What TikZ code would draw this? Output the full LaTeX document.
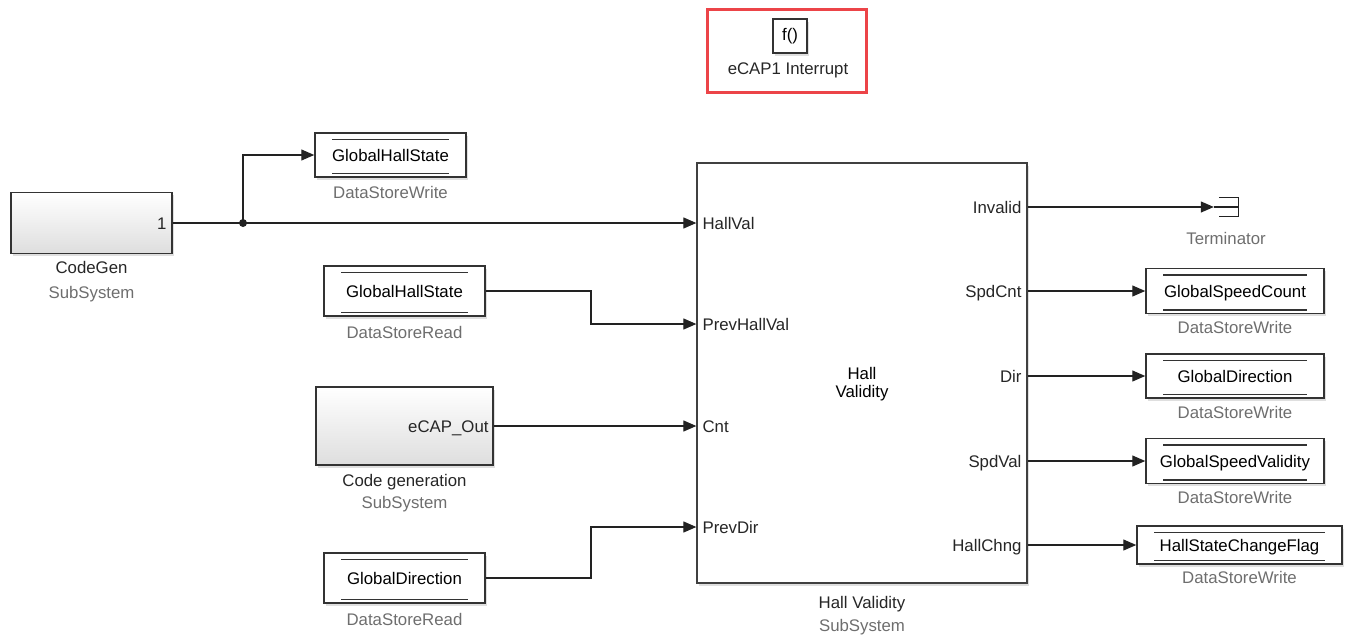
\documentclass[tikz,border=0pt]{standalone}
\usepackage{fontspec}
\setmainfont{Liberation Sans}
\usetikzlibrary{arrows.meta,positioning,calc,shadows}
\definecolor{irqred}{RGB}{236,68,72}
\definecolor{wiregray}{RGB}{34,34,34}
\definecolor{subgray}{RGB}{110,110,110}
\tikzset{
  invisible/.style={inner sep=0pt},
  blockshadow/.style={drop shadow={shadow xshift=2pt, shadow yshift=-2.5pt, fill=black!25}},
  subsys/.style={rectangle, draw=black!80, line width=1.5pt, inner sep=0pt,
    top color=white, bottom color=black!13, blockshadow},
  dstore/.style={rectangle, draw=black!80, line width=1.5pt, fill=white, inner sep=0pt,
    text height=12pt, text depth=0pt, blockshadow, path picture={
      \draw[line width=1.2pt, black!80]
        ([xshift=17pt,yshift=-6.5pt]path picture bounding box.north west) --
        ([xshift=-17pt,yshift=-6.5pt]path picture bounding box.north east);
      \draw[line width=1.2pt, black!80]
        ([xshift=17pt,yshift=3.5pt]path picture bounding box.south west) --
        ([xshift=-17pt,yshift=3.5pt]path picture bounding box.south east);
    }},
  hallblock/.style={rectangle, draw=black!75, line width=1.3pt, fill=white, inner sep=0pt, blockshadow},
  fcallbox/.style={rectangle, draw=black!80, line width=1.5pt, fill=white, inner sep=0pt,
    minimum size=34pt, blockshadow},
  caption/.style={inner sep=0pt, text height=12.5pt, text depth=3.5pt, text=black!85},
  kind/.style={caption, text=subgray},
  portlbl/.style={inner sep=0pt, text height=12pt, text depth=0pt, text=black!85},
  wire/.style={-{Triangle[length=13pt,width=11pt]}, line width=1.2pt, draw=wiregray},
  termline/.style={line width=1.3pt, draw=wiregray}
}

\begin{document}
\begin{tikzpicture}[x=1pt, y=-1pt, font=\fontsize{16.8}{20}\selectfont]

\useasboundingbox (0,0) rectangle (1350,635);

%INTERRUPT
\node[rectangle, draw=irqred, line width=3pt, minimum width=159pt, minimum height=83pt,
  inner sep=0pt] (irq) at (786.5,50.5) {};
\node[fcallbox] (fcall) at (790,36) {f()};
\node[caption] (irqlbl) at (788,70) {eCAP1 Interrupt};

%CODEGEN
\node[subsys, minimum width=161pt, minimum height=61pt] (cg) at (91.5,223) {};
\node[portlbl, anchor=east, xshift=-6pt] (cgport) at (cg.east) {1};
\node[caption, below=7pt of cg] (cgcap) {CodeGen};
\node[kind, below=8pt of cgcap] (cgkind) {SubSystem};

%DATA STORES LEFT
\node[dstore, minimum width=151pt, minimum height=44pt] (dswA) at (390.5,155) {GlobalHallState};
\node[kind, below=8pt of dswA] (dswAl) {DataStoreWrite};

\node[dstore, minimum width=161pt, minimum height=50pt] (dsrA) at (404.5,291) {GlobalHallState};
\node[kind, below=9pt of dsrA] (dsrAl) {DataStoreRead};

\node[subsys, minimum width=177pt, minimum height=78pt] (cgen) at (404.5,426) {};
\node[portlbl, anchor=east, xshift=-5pt] (cgenport) at (cgen.east) {eCAP\_Out};
\node[caption, below=8pt of cgen] (cgencap) {Code generation};
\node[kind, below=6pt of cgencap] (cgenkind) {SubSystem};

\node[dstore, minimum width=161pt, minimum height=50pt] (dsrB) at (404.5,578) {GlobalDirection};
\node[kind, below=9pt of dsrB] (dsrBl) {DataStoreRead};

%HALL VALIDITY
\node[hallblock, minimum width=330pt, minimum height=420pt] (hv) at (862,373) {};
\node[align=center, inner sep=0pt, font=\fontsize{16.8}{17.5}\selectfont] (hvtext)
  at ($(hv.center)+(0,11)$) {Hall\\Validity};
\node[caption, below=12pt of hv] (hvcap) {Hall Validity};
\node[kind, below=6.5pt of hvcap] (hvkind) {SubSystem};

\foreach \nm/\yy in {HallVal/223, PrevHallVal/324, Cnt/426, PrevDir/527} {
  \coordinate (in\nm) at (hv.west |- 0,\yy);
  \node[portlbl, anchor=west] (lbl\nm) at ([xshift=6pt]in\nm) {\nm};
}
\foreach \nm/\yy in {Invalid/207, SpdCnt/291, Dir/376, SpdVal/461, HallChng/545} {
  \coordinate (out\nm) at (hv.east |- 0,\yy);
  \node[portlbl, anchor=east] (lbl\nm) at ([xshift=-6pt]out\nm) {\nm};
}

%DATA STORES RIGHT
\node[invisible, minimum width=24pt, minimum height=19pt] (term) at (1226,207) {};
\draw[termline] ([xshift=5pt]term.north west) -- (term.north east) -- (term.south east)
  -- ([xshift=5pt]term.south west);
\draw[termline] (term.west) -- (term.east);
\node[kind, below=15pt of term] (terml) {Terminator};

\node[dstore, minimum width=178pt, minimum height=45pt] (dswB) at (1235,291) {GlobalSpeedCount};
\node[kind, below=7pt of dswB] (dswBl) {DataStoreWrite};

\node[dstore, minimum width=178pt, minimum height=44pt] (dswC) at (1235,376) {GlobalDirection};
\node[kind, below=7pt of dswC] (dswCl) {DataStoreWrite};

\node[dstore, minimum width=178pt, minimum height=45pt] (dswD) at (1235,461) {GlobalSpeedValidity};
\node[kind, below=7pt of dswD] (dswDl) {DataStoreWrite};

\node[dstore, minimum width=205pt, minimum height=38pt] (dswE) at (1239.5,545) {HallStateChangeFlag};
\node[kind, below=6pt of dswE] (dswEl) {DataStoreWrite};

%WIRES
\coordinate (br) at (243,223);
\draw[wire] (cg.east) -- (inHallVal);
\draw[wire] (br) |- (dswA.west);
\fill[wiregray] (br) circle (4pt);

\draw[wire] (dsrA.east) -| ($(dsrA.east)!.5!(inPrevHallVal)$) |- (inPrevHallVal);
\draw[wire] (cgen.east) -- (inCnt);
\draw[wire] (dsrB.east) -| ($(dsrB.east)!.5!(inPrevDir)$) |- (inPrevDir);

\draw[wire] (outInvalid) -- (term.west);
\draw[wire] (outSpdCnt) -- (dswB.west);
\draw[wire] (outDir) -- (dswC.west);
\draw[wire] (outSpdVal) -- (dswD.west);
\draw[wire] (outHallChng) -- (dswE.west);

\end{tikzpicture}
\end{document}
